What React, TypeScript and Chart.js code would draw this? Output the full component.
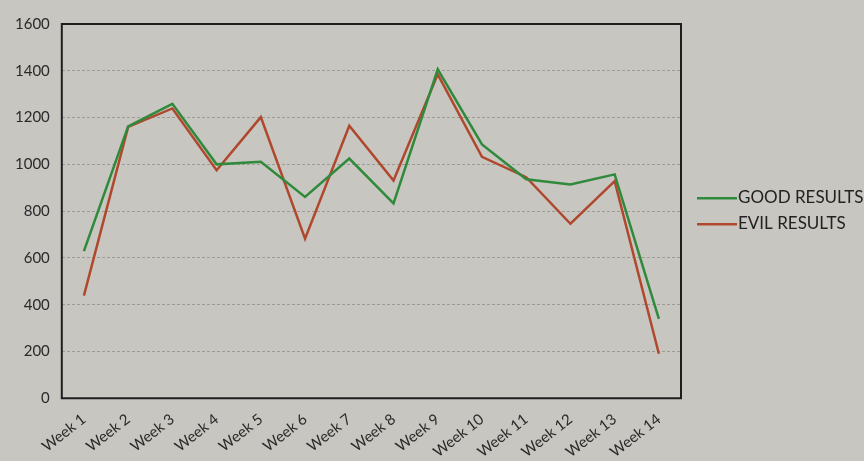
import React, { useEffect, useRef } from "react";
import { Chart, registerables } from "chart.js";

Chart.register(...registerables);

const categories = ["Week 1", "Week 2", "Week 3", "Week 4", "Week 5", "Week 6", "Week 7", "Week 8", "Week 9", "Week 10", "Week 11", "Week 12", "Week 13", "Week 14"];
const goodResults = [629, 1162, 1259, 1000, 1011, 861, 1025, 833, 1406, 1085, 936, 914, 957, 339];
const evilResults = [439, 1160, 1239, 975, 1202, 682, 1165, 931, 1385, 1032, 945, 746, 928, 190];
const seriesNames = ["GOOD RESULTS", "EVIL RESULTS"];
const seriesColors = ["#2f8a3c", "#b0482e"];

const bgPlugin = {
  id: "bgPlugin",
  beforeDraw(chart: any) {
    const { ctx, width, height } = chart;
    ctx.save();
    ctx.fillStyle = "#c8c6c0";
    ctx.fillRect(0, 0, width, height);
    ctx.restore();
  },
  afterDatasetsDraw(chart: any) {
    const { ctx, chartArea } = chart;
    ctx.save();
    ctx.strokeStyle = "#1e1e1e";
    ctx.lineWidth = 2;
    ctx.strokeRect(chartArea.left, chartArea.top, chartArea.right - chartArea.left, chartArea.bottom - chartArea.top);
    // custom legend
    const cy = (chartArea.top + chartArea.bottom) / 2;
    const x0 = chartArea.right + 16;
    ctx.font = "17px Lato";
    ctx.textBaseline = "middle";
    ctx.textAlign = "left";
    chart.data.datasets.forEach((ds: any, i: number) => {
      const y = cy - 14 + i * 26;
      ctx.strokeStyle = ds.borderColor;
      ctx.lineWidth = 2.5;
      ctx.beginPath();
      ctx.moveTo(x0, y + 1);
      ctx.lineTo(x0 + 40, y + 1);
      ctx.stroke();
      ctx.fillStyle = "#222";
      ctx.fillText(ds.label, x0 + 41, y);
    });
    ctx.restore();
  },
};

export default function App() {
  const ref = useRef<HTMLCanvasElement | null>(null);
  useEffect(() => {
    document.body.style.margin = "0";
    const chart = new Chart(ref.current!, {
      type: "line",
      data: {
        labels: categories,
        datasets: [
          { label: seriesNames[0], data: goodResults, borderColor: seriesColors[0], backgroundColor: seriesColors[0], borderWidth: 2.5, pointRadius: 0, tension: 0 },
          { label: seriesNames[1], data: evilResults, borderColor: seriesColors[1], backgroundColor: seriesColors[1], borderWidth: 2.5, pointRadius: 0, tension: 0 },
        ],
      },
      options: {
        animation: false,
        responsive: false,
        layout: { padding: { top: 24, right: 183, left: 3, bottom: -12 } },
        plugins: {
          tooltip: { enabled: false },
          legend: { display: false },
        },
        scales: {
          x: {
            offset: true,
            grid: { display: false, drawTicks: false },
            border: { display: false },
            ticks: {
              color: "#2a2a2a",
              font: { family: "Lato", size: 15 },
              minRotation: 38,
              maxRotation: 38,
              padding: 12,
            },
          },
          y: {
            min: 0,
            max: 1600,
            grid: { color: "rgba(110,100,95,0.45)", lineWidth: 1, drawTicks: false },
            border: { display: false, dash: [3, 2] },
            ticks: {
              stepSize: 200,
              color: "#2a2a2a",
              font: { family: "Lato", size: 15 },
              padding: 12,
              callback: (v: any) => String(v),
            },
          },
        },
      },
      plugins: [bgPlugin],
    });
    return () => chart.destroy();
  }, []);
  return <canvas ref={ref} width={864} height={461} style={{ display: "block" }} />;
}
